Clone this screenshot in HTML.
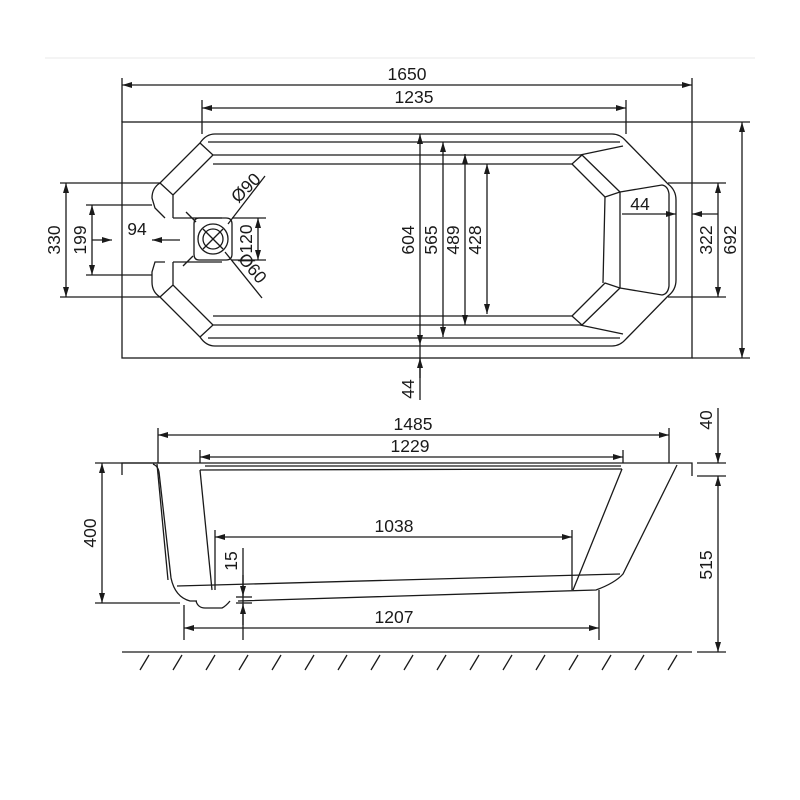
<!DOCTYPE html>
<html><head><meta charset="utf-8"><style>html,body{margin:0;padding:0;background:#fff}svg{display:block}text{font-family:"Liberation Sans",sans-serif;font-size:17.5px;fill:#1a1a1a}</style></head><body>
<svg width="800" height="800" viewBox="0 0 800 800" xmlns="http://www.w3.org/2000/svg">
<defs>
<marker id="a" viewBox="0 0 10 6" refX="10" refY="3" markerWidth="11" markerHeight="6" orient="auto-start-reverse" markerUnits="userSpaceOnUse"><path d="M0,0 L10,3 L0,6z" fill="#1a1a1a"/></marker>
</defs>
<g stroke="#1a1a1a" stroke-width="1.3" fill="none">
<line x1="45" y1="58" x2="755" y2="58" stroke="#eee"/>
<rect x="122" y="122" width="570" height="236"/>
<line x1="122" y1="78" x2="122" y2="122"/><line x1="692" y1="78" x2="692" y2="122"/>
<line x1="122" y1="85" x2="692" y2="85" marker-start="url(#a)" marker-end="url(#a)"/>
<line x1="202" y1="100" x2="202" y2="134"/><line x1="626" y1="100" x2="626" y2="134"/>
<line x1="202" y1="108" x2="626" y2="108" marker-start="url(#a)" marker-end="url(#a)"/>
<path d="M165,218 L155,208 L152,198 Q152,188 160,183 L200,143 Q206,134 215,134 L612,134 Q620,134 626,141 L668,184 Q676,190 676,200 L676,280 Q676,290 668,296 L626,339 Q620,346 612,346 L215,346 Q206,346 200,337 L160,297 Q152,292 152,282 L152,272 L155,262 L165,262"/>
<path d="M208,142 L620,142 M208,338 L620,338"/>
<path d="M200,143 L213,155 L173,195 L160,183 M213,155 L580,155 L623,146 M173,195 L173,218"/>
<path d="M200,337 L213,325 L173,285 L160,297 M213,325 L580,325 L623,334 M173,285 L173,262"/>
<path d="M213,164 L572,164 L582,155 M213,316 L572,316 L582,325"/>
<path d="M582,155 L620,192 L605,197 L572,164 M582,325 L620,288 L605,283 L572,316"/>
<path d="M605,197 L603,283 M620,192 L620,288"/>
<path d="M620,192 L662,185 Q668,186 669,194 L669,286 Q668,294 662,295 L620,288"/>
<path d="M173,218 L222,218 M173,262 L222,262"/>
<path d="M199,218 L226,218 Q232,218 232,224 L232,254 Q232,260 226,260 L199,260 Q194,260 194,254 L194,224 Q194,218 199,218"/>
<circle cx="213" cy="239" r="15"/><circle cx="213" cy="239" r="10"/>
<line x1="203" y1="229" x2="223" y2="249"/><line x1="223" y1="229" x2="203" y2="249"/>
<line x1="186" y1="212" x2="196" y2="222"/>
<line x1="228" y1="224" x2="265" y2="176"/>
<line x1="225" y1="252" x2="262" y2="298"/>
<line x1="183" y1="266" x2="193" y2="256"/>
<line x1="60" y1="183" x2="160" y2="183"/><line x1="60" y1="297" x2="160" y2="297"/>
<line x1="66" y1="183" x2="66" y2="297" marker-start="url(#a)" marker-end="url(#a)"/>
<line x1="86" y1="205" x2="152" y2="205"/><line x1="86" y1="275" x2="152" y2="275"/>
<line x1="92" y1="205" x2="92" y2="275" marker-start="url(#a)" marker-end="url(#a)"/>
<line x1="92" y1="240" x2="112" y2="240" marker-end="url(#a)"/>
<line x1="180" y1="240" x2="152" y2="240" marker-end="url(#a)"/>
<line x1="232" y1="218" x2="266" y2="218"/><line x1="232" y1="260" x2="266" y2="260"/>
<line x1="258" y1="218" x2="258" y2="260" marker-start="url(#a)" marker-end="url(#a)"/>
<line x1="420" y1="134" x2="420" y2="345" marker-start="url(#a)" marker-end="url(#a)"/>
<line x1="420" y1="345" x2="420" y2="400"/>
<line x1="420" y1="378" x2="420" y2="358" marker-end="url(#a)"/>
<line x1="443" y1="142" x2="443" y2="337" marker-start="url(#a)" marker-end="url(#a)"/>
<line x1="465" y1="154" x2="465" y2="325" marker-start="url(#a)" marker-end="url(#a)"/>
<line x1="487" y1="164" x2="487" y2="314" marker-start="url(#a)" marker-end="url(#a)"/>
<line x1="692" y1="122" x2="750" y2="122"/><line x1="692" y1="358" x2="750" y2="358"/>
<line x1="742" y1="122" x2="742" y2="358" marker-start="url(#a)" marker-end="url(#a)"/>
<line x1="668" y1="183" x2="726" y2="183"/><line x1="668" y1="297" x2="726" y2="297"/>
<line x1="718" y1="183" x2="718" y2="297" marker-start="url(#a)" marker-end="url(#a)"/>
<line x1="622" y1="214" x2="676" y2="214" marker-end="url(#a)"/>
<line x1="718" y1="214" x2="692" y2="214" marker-end="url(#a)"/>
<path d="M122,475 L122,463 L692,463 L692,476"/>
<line x1="158" y1="428" x2="158" y2="463"/><line x1="669" y1="428" x2="669" y2="463"/>
<line x1="158" y1="435" x2="669" y2="435" marker-start="url(#a)" marker-end="url(#a)"/>
<line x1="200" y1="450" x2="200" y2="463"/><line x1="623" y1="450" x2="623" y2="463"/>
<line x1="200" y1="457" x2="623" y2="457" marker-start="url(#a)" marker-end="url(#a)"/>
<path d="M153,464 Q158,466 159,472 L171,578 Q175,597 190,601 L197,601"/>
<path d="M157,464 L168,580"/>
<path d="M205,466 L621,466 M200,470 L622,469"/>
<path d="M200,470 L212,590 M622,469 L573,590"/>
<path d="M677,465 L623,574 Q615,583 596,590 L238,601"/>
<path d="M177,586 L620,574"/>
<path d="M196,601 Q198,608 205,608 L222,608 Q226,606 230,601"/>
<line x1="95" y1="463" x2="170" y2="463"/><line x1="95" y1="603" x2="180" y2="603"/>
<line x1="102" y1="463" x2="102" y2="603" marker-start="url(#a)" marker-end="url(#a)"/>
<line x1="215" y1="530" x2="215" y2="590"/><line x1="572" y1="530" x2="572" y2="590"/>
<line x1="215" y1="537" x2="572" y2="537" marker-start="url(#a)" marker-end="url(#a)"/>
<line x1="184" y1="605" x2="184" y2="640"/><line x1="599" y1="590" x2="599" y2="640"/>
<line x1="184" y1="628" x2="599" y2="628" marker-start="url(#a)" marker-end="url(#a)"/>
<line x1="243" y1="548" x2="243" y2="640"/>
<line x1="243" y1="575" x2="243" y2="596" marker-end="url(#a)"/>
<line x1="243" y1="625" x2="243" y2="604" marker-end="url(#a)"/>
<line x1="236" y1="597" x2="252" y2="597"/><line x1="236" y1="603" x2="252" y2="603"/>
<line x1="697" y1="463" x2="726" y2="463"/><line x1="697" y1="476" x2="726" y2="476"/>
<line x1="718" y1="408" x2="718" y2="463" marker-end="url(#a)"/>
<line x1="718" y1="476" x2="718" y2="652" marker-start="url(#a)" marker-end="url(#a)"/>
<line x1="122" y1="652" x2="692" y2="652"/><line x1="697" y1="652" x2="726" y2="652"/>
<path d="M149,655 L140,670 M182,655 L173,670 M215,655 L206,670 M248,655 L239,670 M281,655 L272,670 M314,655 L305,670 M347,655 L338,670 M380,655 L371,670 M413,655 L404,670 M446,655 L437,670 M479,655 L470,670 M512,655 L503,670 M545,655 L536,670 M578,655 L569,670 M611,655 L602,670 M644,655 L635,670 M677,655 L668,670"/>
</g>
<g>
<text x="407" y="80" text-anchor="middle">1650</text>
<text x="414" y="103" text-anchor="middle">1235</text>
<text x="137" y="235" text-anchor="middle">94</text>
<text x="640" y="210" text-anchor="middle">44</text>
<text transform="translate(66,240) rotate(-90)" text-anchor="middle" dy="-6">330</text>
<text transform="translate(92,240) rotate(-90)" text-anchor="middle" dy="-6">199</text>
<text transform="translate(258,239) rotate(-90)" text-anchor="middle" dy="-6">120</text>
<text transform="translate(250,192) rotate(-45)" text-anchor="middle">Ø90</text>
<text transform="translate(248,272) rotate(50)" text-anchor="middle">Ø60</text>
<text transform="translate(420,240) rotate(-90)" text-anchor="middle" dy="-6">604</text>
<text transform="translate(443,240) rotate(-90)" text-anchor="middle" dy="-6">565</text>
<text transform="translate(465,240) rotate(-90)" text-anchor="middle" dy="-6">489</text>
<text transform="translate(487,240) rotate(-90)" text-anchor="middle" dy="-6">428</text>
<text transform="translate(420,389) rotate(-90)" text-anchor="middle" dy="-6">44</text>
<text transform="translate(718,240) rotate(-90)" text-anchor="middle" dy="-6">322</text>
<text transform="translate(742,240) rotate(-90)" text-anchor="middle" dy="-6">692</text>
<text x="413" y="430" text-anchor="middle">1485</text>
<text x="410" y="452" text-anchor="middle">1229</text>
<text x="394" y="532" text-anchor="middle">1038</text>
<text x="394" y="623" text-anchor="middle">1207</text>
<text transform="translate(102,533) rotate(-90)" text-anchor="middle" dy="-6">400</text>
<text transform="translate(243,561) rotate(-90)" text-anchor="middle" dy="-6">15</text>
<text transform="translate(718,420) rotate(-90)" text-anchor="middle" dy="-6">40</text>
<text transform="translate(718,565) rotate(-90)" text-anchor="middle" dy="-6">515</text>
</g>
</svg>
</body></html>
